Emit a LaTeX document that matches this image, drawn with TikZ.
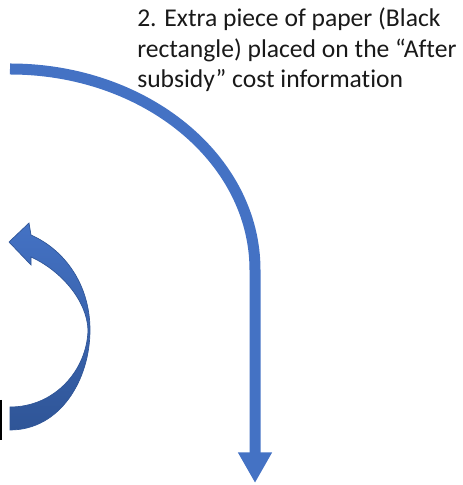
\documentclass[tikz,border=0pt]{standalone}
\usepackage{fontspec}
\setmainfont[Ligatures=NoCommon]{Carlito}
\usepackage{xcolor}
\definecolor{officeBlue}{HTML}{4472C4}
\definecolor{officeDark}{HTML}{2F5597}
\usetikzlibrary{arrows.meta}
\tikzset{
  bigarrow/.style={officeBlue, line width=8.25pt, -{Triangle[width=24pt,length=23pt]}},
  blockarrow/.style={top color=officeBlue, bottom color=officeDark, draw=officeDark, line width=0.5pt},
  notetext/.style={anchor=base west, align=left, inner sep=0pt, text=black!90,
    font=\fontsize{19.2}{23}\selectfont},
}

\begin{document}
\begin{tikzpicture}[x=0.75pt, y=0.75pt]

    \useasboundingbox (0,0) rectangle (462,485);

    % --- Note text (anchored at the baseline of its last line)
    \node[notetext] (note) at (137,397) {2. Extra piece of paper (Black\\rectangle) placed on the “After\\subsidy” cost information};

    % --- Long arrow round to the bottom
    \coordinate (bigstart) at (10,416);
    \coordinate (bigtip) at (255,2);
    \draw[bigarrow] (bigstart) arc[start angle=90, end angle=0, x radius=245, y radius=201] -- (bigtip);

    % --- Curved block arrow on the left
    \coordinate (tailtop) at (10,78);
    \coordinate (tailbot) at (10,55);
    \coordinate (headtip) at (9,243);
    \shade[blockarrow] (tailbot) .. controls (60,55) and (90,105) .. (90,155)
        .. controls (90,200) and (65,235) .. (31,250) -- (29,262) -- (headtip) -- (31,220) -- (31,228)
        .. controls (60,215) and (87,185) .. (88,155)
        .. controls (87,115) and (55,78) .. (tailtop) -- cycle;

    % --- Edge of the box cut off at the left
    \coordinate (edgetop) at (1,85);
    \coordinate (edgebot) at (1,45);
    \draw[black, line width=1.2pt] (edgetop) -- (edgebot);

\end{tikzpicture}
\end{document}
